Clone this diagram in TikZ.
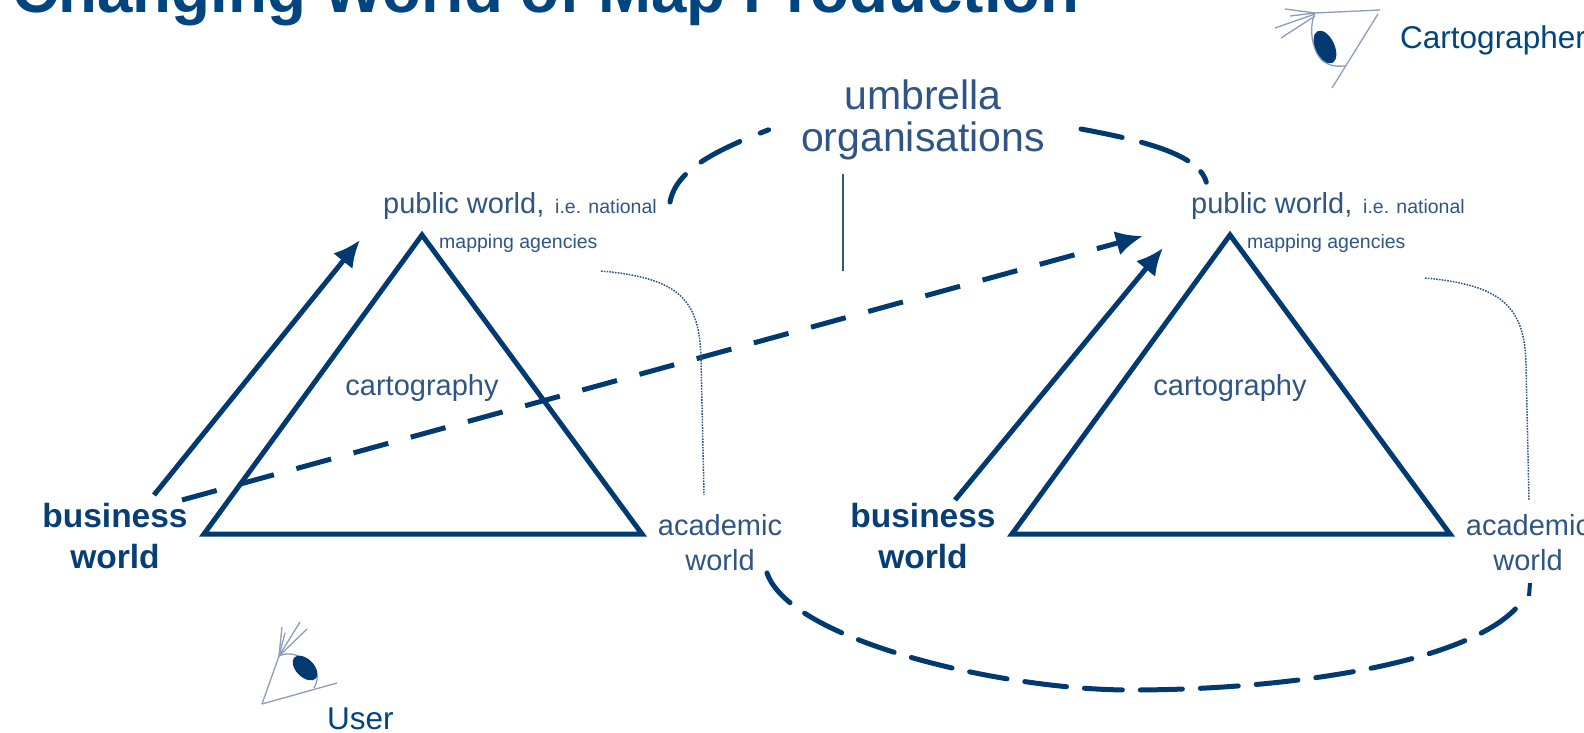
\documentclass[tikz,border=0pt]{standalone}
\usepackage{fontspec}
\setmainfont{Liberation Sans}
\usetikzlibrary{arrows.meta,calc}
\definecolor{navy}{HTML}{003A70}
\definecolor{titleblue}{HTML}{00457F}
\definecolor{labelblue}{HTML}{2F5585}
\definecolor{eyeline}{HTML}{8E9CBB}
\newcommand{\fs}[1]{\fontsize{#1}{#1}\selectfont}
\tikzset{
  x=1pt,y=-1pt,
  lab/.style={text=labelblue,inner sep=0pt,font=\fs{29},align=center},
  biz/.style={text=navy!85!labelblue,inner sep=0pt,font=\fs{33.5}\bfseries,align=center},
  small/.style={text=labelblue,inner sep=0pt,font=\fs{19.5},anchor=base west},
  tri/.style={draw=navy,line width=5pt,line join=miter},
  solidarrow/.style={draw=navy,line width=5pt,-{Latex[length=27pt,width=25pt]}},
  dashline/.style={draw=navy,line width=5pt,line cap=round},
  dotline/.style={draw=labelblue,line width=1.5pt,dash pattern=on 1.6pt off 1.2pt},
  eye/.style={draw=eyeline,line width=1.3pt},
  pupil/.style={fill=navy,draw=none},
}
\begin{document}
\begin{tikzpicture}
\useasboundingbox (0,0) rectangle (1584,733);
\clip (0,0) rectangle (1584,733);
% title
\node[anchor=base west,inner sep=0pt,text=titleblue,font=\fs{63.7}\bfseries] (title) at (12,13) {Changing World of Map Production};
% triangles
\coordinate (a1) at (422,235); \coordinate (l1) at (204,534); \coordinate (r1) at (642,534);
\coordinate (a2) at (1230,235); \coordinate (l2) at (1012,534); \coordinate (r2) at (1450,534);
\draw[tri] (a1) -- (l1) -- (r1) -- cycle;
\draw[tri] (a2) -- (l2) -- (r2) -- cycle;
% labels
\node[lab] (carto1) at (422,388) {cartography};
\node[lab] (carto2) at (1230,388) {cartography};
\node[lab,anchor=base west] (pub1) at (383,213) {public world,};
\node[small] (nat1) at (555,213) {i.e. national};
\node[small] (map1) at (439,248) {mapping agencies};
\node[lab,anchor=base west] (pub2) at (1191,213) {public world,};
\node[small] (nat2) at (1363,213) {i.e. national};
\node[small] (map2) at (1247,248) {mapping agencies};
\node[biz] (biz1) at (115,536) {business\\[7pt]world};
\node[biz] (biz2) at (923,536) {business\\[7pt]world};
\node[lab] (acad1) at (720,543) {academic\\[6pt]world};
\node[lab] (acad2) at (1528,543) {academic\\[6pt]world};
\node[lab,font=\fs{41}] (umb) at (923,120) {umbrella\\[1pt]organisations};
\node[text=titleblue,inner sep=0pt,font=\fs{31.5},anchor=base west] (cart) at (1400,49) {Cartographer};
\node[text=titleblue,inner sep=0pt,font=\fs{31.5},anchor=base west] (user) at (327,729) {User};
% arrows
\coordinate (s1) at (154,495); \coordinate (e1) at (360,240);
\coordinate (s2) at (955,500); \coordinate (e2) at (1163,248);
\draw[solidarrow] (s1) -- (e1);
\draw[solidarrow] (s2) -- (e2);
\coordinate (ds) at (182,500); \coordinate (de) at (1143,236);
\draw[solidarrow,dash pattern=on 36pt off 23.3pt] (ds) -- (de);
% umbrella dashes
\coordinate (u1) at (670,202); \coordinate (u2) at (776,127);
\draw[dashline,dash pattern=on 32pt off 20pt on 44pt off 22pt on 9pt off 100pt] (u1) .. controls (676,170) and (715,150) .. (u2);
\coordinate (u3) at (1081,129); \coordinate (u4) at (1207,188);
\draw[dashline,dash pattern=on 42pt off 20pt on 50pt off 17pt on 12pt off 100pt] (u3) .. controls (1140,140) and (1207,155) .. (u4);
% vertical line
\coordinate (v1) at (843,174); \coordinate (v2) at (843,271);
\draw[draw=labelblue,line width=1.5pt] (v1) -- (v2);
% dotted
\coordinate (d1a) at (601,271); \coordinate (d1b) at (704,495);
\draw[dotline] (d1a) .. controls (680,278) and (700,300) .. (701,360) -- (d1b);
\coordinate (d2a) at (1425,278); \coordinate (d2b) at (1529,500);
\draw[dotline] (d2a) .. controls (1500,285) and (1525,305) .. (1526,365) -- (d2b);
% bottom dashed
\coordinate (b1) at (767,573); \coordinate (b2) at (1522,601);
\draw[dashline,dash pattern=on 38pt off 18pt on 42pt off 18pt] (b1) .. controls (790,640) and (1000,690) .. (1130,690) .. controls (1300,690) and (1480,660) .. (b2);
\coordinate (b3) at (1530,583); \coordinate (b4) at (1529,596);
\draw[draw=navy,line width=4pt] (b3) -- (b4);
% cartographer eye
\begin{scope}[shift={(1240,0)}]
\draw[eye] (75,13) -- (140,10);
\draw[eye] (75,13) -- (45,9);
\draw[eye] (75,13) -- (50,16);
\draw[eye] (75,14) -- (35,28);
\draw[eye] (75,16) -- (41,38);
\draw[eye] (138,14) -- (92,88);
\draw[eye] (75,13) .. controls (68,28) and (72,58) .. (88,64) .. controls (95,67) and (100,66) .. (106,66);
\fill[pupil] (85,47) ellipse [x radius=9.5,y radius=17.5,rotate=25];
\end{scope}
% user eye
\begin{scope}[shift={(230,610)}]
\draw[eye] (32,94) -- (49,46);
\draw[eye] (32,94) -- (107,73);
\draw[eye] (49,46) -- (52,17);
\draw[eye] (49,46) -- (55,23);
\draw[eye] (49,46) -- (70,12);
\draw[eye] (49,46) -- (77,19);
\draw[eye] (49,46) .. controls (65,38) and (90,55) .. (87,69) .. controls (87,73) and (85,76) .. (84,78);
\fill[pupil] (75,58) ellipse [x radius=9,y radius=15,rotate=45];
\end{scope}
\end{tikzpicture}
\end{document}
